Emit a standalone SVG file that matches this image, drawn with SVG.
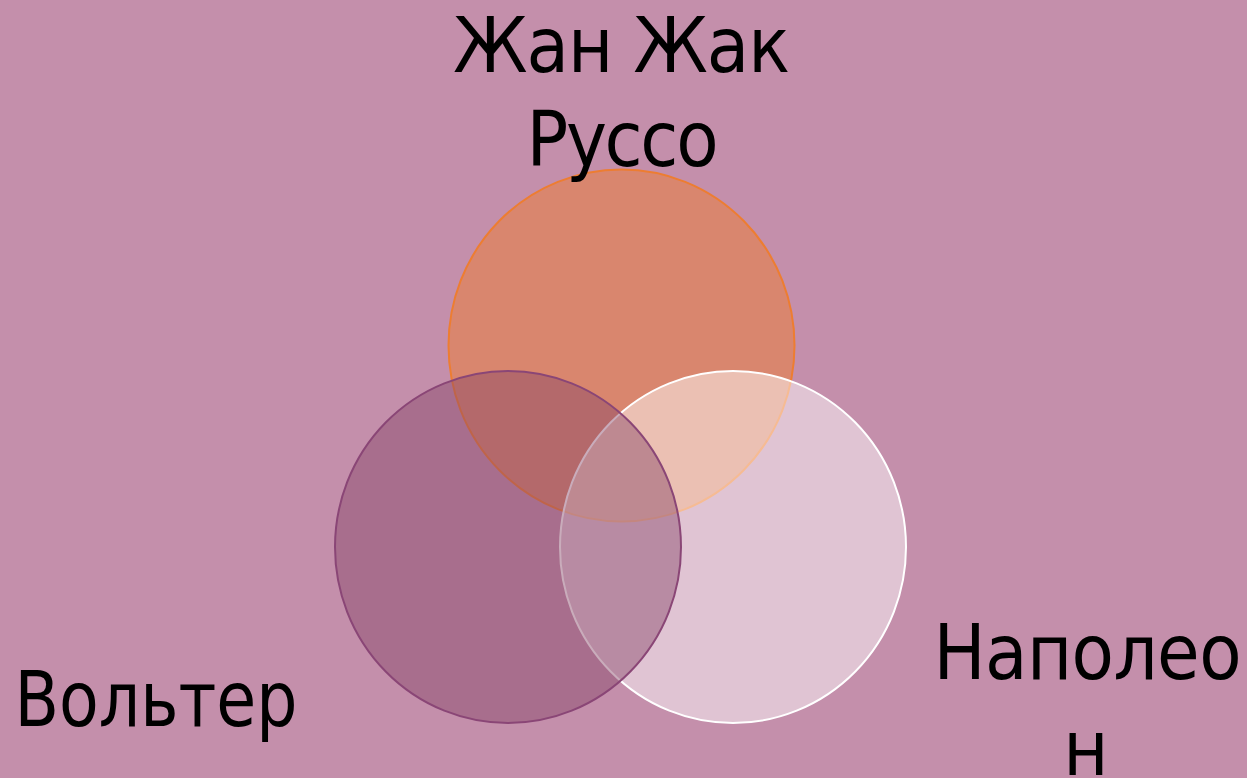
<svg xmlns="http://www.w3.org/2000/svg" width="1247" height="778" viewBox="0 0 1247 778">
<style>
.lbl{font-family:"DejaVu Sans Condensed","DejaVu Sans",sans-serif;font-stretch:condensed;font-size:77px;fill:#000;text-anchor:middle}
</style>
<rect x="0" y="0" width="1247" height="778" fill="#C48FAB"/>
<g id="node-russo">
<ellipse cx="621.5" cy="345.5" rx="173" ry="176" fill="#ED7D31" fill-opacity="0.5" stroke="#ED7D31" stroke-width="2"/>
<text class="lbl" x="621.5" y="72" textLength="337" lengthAdjust="spacing">Жан Жак</text>
<text class="lbl" x="622.5" y="166" textLength="192" lengthAdjust="spacing">Руссо</text>
</g>
<g id="node-napoleon">
<ellipse cx="733" cy="547" rx="173" ry="176" fill="#FFFFFF" fill-opacity="0.48" stroke="#FFFFFF" stroke-width="2"/>
<text class="lbl" x="1087.5" y="679" textLength="308" lengthAdjust="spacing">Наполео</text>
<text class="lbl" x="1086" y="775">н</text>
</g>
<g id="node-voltaire">
<ellipse cx="508" cy="547" rx="173" ry="176" fill="#884868" fill-opacity="0.45" stroke="#8A4676" stroke-width="2"/>
<text class="lbl" x="156" y="726" textLength="283" lengthAdjust="spacingAndGlyphs">Вольтер</text>
</g>
<g id="connectors"/>
</svg>
